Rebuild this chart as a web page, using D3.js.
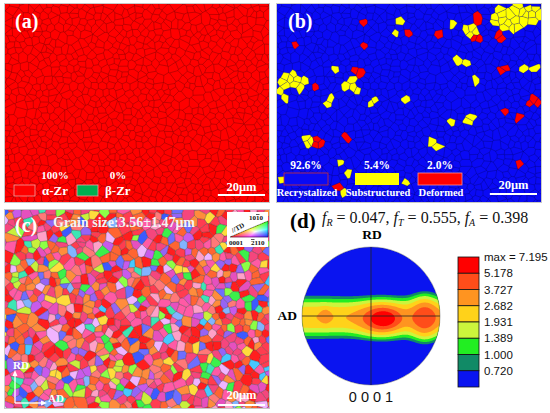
<!DOCTYPE html>
<html>
<head>
<meta charset="utf-8">
<script src="https://cdn.jsdelivr.net/npm/d3@7"></script>
<style>
body { margin: 0; background: #fff }
svg { display: block }
</style>
</head>
<body>
<div id="figure"></div>
<script>
// ---------- data ----------
var mapSizeMicrons = [112, 84]
var scaleBarMicrons = 20

var phaseLabels = ["α-Zr", "β-Zr"]
var phaseFractions = ["100%", "0%"]
var phaseColors = ["#ff0000", "#00b050"]

var recrystLabels = ["Recrystalized", "Substructured", "Deformed"]
var recrystFractions = ["92.6%", "5.4%", "2.0%"]
var recrystColors = ["#0a0af5", "#ffff00", "#ff0000"]

// grain clusters of map (b), in microns: [x, y, rx, ry]
var substructuredPatches = [
    [101, 5.5, 11.5, 6], [74.7, 7.6, 1.8, 1.8], [82.7, 11.9, 4.5, 1.5], [53.9, 7.2, 1.8, 1.8],
    [49.2, 12.3, 1.2, 1], [75.9, 24.2, 1.2, 1], [81.5, 24.6, 1, 1], [25.5, 28, 1.8, 1.8],
    [102.7, 28.4, 1.8, 1.8], [5.5, 32.2, 6, 3], [9.8, 33.1, 3, 3], [30.1, 33.9, 3, 3],
    [85.3, 32.2, 1.3, 1.3], [109.5, 27.2, 1.3, 1.3], [33.5, 37.8, 1.6, 1.6], [2.5, 38.2, 2, 2],
    [22.1, 41.2, 1.6, 1.6], [40.3, 41.6, 2, 2], [52.6, 40.7, 1.6, 1.6], [73.4, 49.6, 1.5, 1.5],
    [82.3, 49.2, 2, 2], [13.2, 56.9, 2.5, 2.5], [66.6, 59.8, 2.2, 2.2], [25.9, 67.9, 0.8, 0.8],
    [29.3, 71.7, 1.6, 1.6], [29.3, 78.9, 1.6, 1.6], [55.2, 75.1, 0.9, 0.9], [2.5, 75.9, 0.9, 0.9]
]
var deformedPatches = [
    [84.4, 4.7, 3.5, 2], [95, 14, 2.5, 2.5], [85.5, 13.4, 2.5, 1.3], [35.6, 7.2, 1.7, 1.7],
    [56, 13.2, 1.3, 1.3], [67.5, 12.7, 1.3, 1.3], [8.1, 17, 1, 1], [37.3, 17.8, 0.9, 0.9],
    [34.4, 28.4, 2.5, 2.5], [95.9, 28.4, 4.7, 1.7], [16.5, 34.8, 1.2, 1.2], [109, 41.6, 2.2, 2.2],
    [97.6, 44.5, 1.6, 1.6], [104.4, 47.5, 1.6, 1.6], [17.4, 58.5, 1.7, 1.7], [31, 56.9, 1.3, 1.3],
    [103.1, 66.2, 1, 1], [25.9, 76.8, 3.5, 1.4]
]

var grainSizeText = "Grain size:3.56±1.47μm"
// IPF colours seen in map (c) and how often they show up
var ipfColors = ["#ff1e1e", "#ff3c50", "#f5467d", "#ff5aa5", "#e650be", "#ff6432", "#ff8c3c",
    "#ff7878", "#ffa0c8", "#c85aeb", "#9664f5", "#6e6eff", "#3c5aff", "#46c8ff", "#82b4ff",
    "#3cf04b", "#8cff46", "#c8f03c", "#ffdc3c", "#3ce6b4", "#f0b4ff"]
var ipfWeights = [12, 10, 8, 7, 5, 9, 6, 4, 4, 3, 3, 3, 2, 2, 2, 3, 2, 2, 3, 2, 2]

var textureFactors = ["R", "T", "A"]
var textureValues = ["0.047", "0.555", "0.398"]
var podfLevels = [0.720, 1.000, 1.389, 1.931, 2.682, 3.727, 5.178]
var podfMax = 7.195
var podfColors = ["#0a14f0", "#118a66", "#22ee22", "#ccf53c", "#ffd21a", "#ff9420", "#ff4d1a", "#ff0000"]
// basal pole density in unit-circle coords: band along AD [yCentre, sigma, height]
var podfBand = [0.02, 0.19, 2.5]
// peaks on the band: [x, y, sx, sy, height]
var podfPeaks = [
    [0.15, 0.05, 0.21, 0.15, 2.6],
    [0.19, 0.04, 0.12, 0.085, 2.4],
    [0.78, 0.03, 0.13, 0.20, 2.55],
    [-0.80, 0.0, 0.30, 0.28, 0.15],
    [-0.66, 0.0, 0.05, 0.07, 1.0]
]

// ---------- layout ----------
var width = 550
var height = 413
var serif = "'Liberation Serif', 'Times New Roman', serif"
var sans = "'Liberation Sans', Arial, sans-serif"
var panelA = {x: 5, y: 4, w: 264, h: 198}
var panelB = {x: 277, y: 4, w: 264, h: 198}
var panelC = {x: 5, y: 210, w: 264, h: 198}
var pole = {cx: 371, cy: 316, r: 69}

var svg = d3.select("#figure").append("svg")
    .attr("width", width)
    .attr("height", height)

var xMap = d3.scaleLinear().domain([0, mapSizeMicrons[0]]).range([0, panelA.w])
var yMap = d3.scaleLinear().domain([0, mapSizeMicrons[1]]).range([0, panelA.h])

/**
 * Small seeded generator, only used for the grain texture of the maps
 */
function texture(seed) {
    return function() {
        seed = (seed * 1664525 + 1013904223) >>> 0
        return seed / 4294967296
    }
}

/**
 * Grain centres on a jittered staggered grid (microns)
 */
function grainSites(seed, dx, dy, skipRate) {
    var rnd = texture(seed)
    var sites = []
    for (var row = -1; row * dy < mapSizeMicrons[1] + dy; row++) {
        for (var col = -1; col * dx < mapSizeMicrons[0] + dx; col++) {
            var skip = rnd() < skipRate
            var jx = (rnd() - 0.5) * dx * 0.75
            var jy = (rnd() - 0.5) * dy * 0.75
            if (skip) continue
            sites.push([col * dx + (row % 2) * dx / 2 + jx, row * dy + jy])
        }
    }
    return sites
}

/**
 * Create the group and clip of a map panel
 */
function mapPanel(panel, id) {
    svg.append("clipPath").attr("id", id)
        .append("rect").attr("width", panel.w).attr("height", panel.h)
    var g = svg.append("g").attr("transform", "translate(" + panel.x + "," + panel.y + ")")
    var inner = g.append("g").attr("clip-path", "url(#" + id + ")")
    return {g: g, inner: inner}
}

function voronoiOf(sites, panel) {
    return d3.Delaunay
        .from(sites, function(d) { return xMap(d[0]) }, function(d) { return yMap(d[1]) })
        .voronoi([0, 0, panel.w, panel.h])
}

function frame(g, panel) {
    g.append("rect").attr("x", -0.5).attr("y", -0.5)
        .attr("width", panel.w + 1).attr("height", panel.h + 1)
        .attr("fill", "none").attr("stroke", "#c8c8c8").attr("stroke-width", 1)
}

function panelLabel(g, text, x, y) {
    g.append("text").attr("x", x).attr("y", y)
        .style("font-family", serif).style("font-weight", "bold").style("font-size", "20px")
        .attr("fill", "#fff").text(text)
}

function scaleBar(g, panel, textY, barY) {
    var x1 = panel.w - 4
    var x0 = x1 - (xMap(scaleBarMicrons) - xMap(0))
    g.append("line").attr("x1", x0).attr("x2", x1).attr("y1", barY).attr("y2", barY)
        .attr("stroke", "#fff").attr("stroke-width", 2)
    g.append("text").attr("x", (x0 + x1) / 2).attr("y", textY).attr("text-anchor", "middle")
        .style("font-family", serif).style("font-weight", "bold").style("font-size", "12.5px")
        .attr("fill", "#fff").text(scaleBarMicrons + "μm")
}

// ---------- (a) phase map ----------
function drawPhaseMap() {
    var p = mapPanel(panelA, "clipA")
    var vor = voronoiOf(grainSites(11, 3.2, 2.5, 0.12), panelA)
    p.inner.append("rect").attr("width", panelA.w).attr("height", panelA.h).attr("fill", phaseColors[0])
    p.inner.append("path").attr("d", vor.render())
        .attr("fill", "none").attr("stroke", "#4d0000").attr("stroke-width", 0.5).attr("stroke-opacity", 0.65)
    frame(p.g, panelA)
    panelLabel(p.g, "(a)", 10, 24)

    var legX = [9, 72]
    phaseLabels.forEach(function(label, i) {
        p.g.append("rect").attr("x", legX[i]).attr("y", 181).attr("width", 21).attr("height", 11)
            .attr("fill", phaseColors[i]).attr("stroke", "#f0a0a0").attr("stroke-width", 0.8)
        p.g.append("text").attr("x", legX[i] + 28).attr("y", 191)
            .style("font-family", serif).style("font-weight", "bold").style("font-size", "13px")
            .attr("fill", "#fff").text(label)
        p.g.append("text").attr("x", legX[i] + 41).attr("y", 175).attr("text-anchor", "middle")
            .style("font-family", serif).style("font-weight", "bold").style("font-size", "11px")
            .attr("fill", "#fff").text(phaseFractions[i])
    })
    scaleBar(p.g, panelA, 187, 191)
}

// ---------- (b) recrystallisation map ----------
function inPatch(site, patch) {
    var ux = (site[0] - patch[0]) / patch[2]
    var uy = (site[1] - patch[1]) / patch[3]
    return ux * ux + uy * uy <= 1
}

function drawRecrystMap() {
    var p = mapPanel(panelB, "clipB")
    var sites = grainSites(11, 3.2, 2.5, 0.12)
    var vor = voronoiOf(sites, panelB)
    var kind = sites.map(function(s) {
        if (substructuredPatches.some(function(q) { return inPatch(s, q) })) return 1
        if (deformedPatches.some(function(q) { return inPatch(s, q) })) return 2
        return 0
    })
    substructuredPatches.forEach(function(q) { kind[vor.delaunay.find(xMap(q[0]), yMap(q[1]))] = 1 })
    deformedPatches.forEach(function(q) { kind[vor.delaunay.find(xMap(q[0]), yMap(q[1]))] = 2 })

    p.inner.append("rect").attr("width", panelB.w).attr("height", panelB.h).attr("fill", recrystColors[0])
    p.inner.selectAll("path.grain")
        .data(sites.map(function(s, i) { return i }).filter(function(i) { return kind[i] > 0 }))
        .enter().append("path").attr("class", "grain")
        .attr("d", function(i) { return vor.renderCell(i) })
        .attr("fill", function(i) { return recrystColors[kind[i]] })
    p.inner.append("path").attr("d", vor.render())
        .attr("fill", "none").attr("stroke", "#000040").attr("stroke-width", 0.45).attr("stroke-opacity", 0.6)
    frame(p.g, panelB)
    panelLabel(p.g, "(b)", 11, 24)

    var boxX = [7, 78, 141]
    recrystLabels.forEach(function(label, i) {
        var cx = boxX[i] + 22
        p.g.append("rect").attr("x", boxX[i]).attr("y", 169).attr("width", 44).attr("height", 12)
            .attr("fill", recrystColors[i])
            .attr("stroke", i == 0 ? "#d03030" : (i == 2 ? "#ff9090" : "none")).attr("stroke-width", 0.8)
        p.g.append("text").attr("x", cx).attr("y", 165).attr("text-anchor", "middle")
            .style("font-family", serif).style("font-weight", "bold").style("font-size", "11.5px")
            .attr("fill", "#fff").text(recrystFractions[i])
        p.g.append("text").attr("x", cx + 1).attr("y", 192).attr("text-anchor", "middle")
            .style("font-family", serif).style("font-weight", "bold").style("font-size", "10.5px")
            .attr("fill", "#fff").text(label)
    })
    scaleBar(p.g, panelB, 185, 190)
}

// ---------- (c) IPF map ----------
function drawIpfMap() {
    var p = mapPanel(panelC, "clipC")
    var sites = grainSites(29, 3.3, 2.5, 0.2)
    var vor = voronoiOf(sites, panelC)
    var rnd = texture(5)
    var cumulative = d3.cumsum(ipfWeights)
    var total = cumulative[cumulative.length - 1]
    var colors = sites.map(function() {
        return ipfColors[d3.bisectRight(cumulative, rnd() * total)]
    })
    p.inner.selectAll("path.grain")
        .data(sites.map(function(s, i) { return i }))
        .enter().append("path").attr("class", "grain")
        .attr("d", function(i) { return vor.renderCell(i) })
        .attr("fill", function(i) { return colors[i] })
    p.inner.append("path").attr("d", vor.render())
        .attr("fill", "none").attr("stroke", "#202020").attr("stroke-width", 0.5).attr("stroke-opacity", 0.7)
    frame(p.g, panelC)
    panelLabel(p.g, "(c)", 10, 22)
    p.g.append("text").attr("x", 48).attr("y", 17)
        .style("font-family", serif).style("font-weight", "bold").style("font-size", "14px")
        .attr("fill", "#f4f4f4").text(grainSizeText)

    // IPF key triangle
    var key = p.g.append("g").attr("transform", "translate(222,2)")
    key.append("rect").attr("width", 41).attr("height", 35).attr("fill", "#fff")
    var A = [3, 25], B = [41, 25], C = [41, 9]
    var step = 1
    for (var y = C[1]; y < A[1]; y += step) {
        for (var x = A[0]; x < B[0]; x += step) {
            var px = x + 0.5, py = y + 0.5
            var det = (B[1] - C[1]) * (A[0] - C[0]) + (C[0] - B[0]) * (A[1] - C[1])
            var a = ((B[1] - C[1]) * (px - C[0]) + (C[0] - B[0]) * (py - C[1])) / det
            var b = ((C[1] - A[1]) * (px - C[0]) + (A[0] - C[0]) * (py - C[1])) / det
            var c = 1 - a - b
            if (a < 0 || b < 0 || c < 0) continue
            var m = Math.max(a, b, c)
            var col = d3.rgb(255 * Math.sqrt(a / m), 255 * Math.sqrt(c / m), 255 * Math.sqrt(b / m))
            key.append("rect").attr("x", x).attr("y", y).attr("width", step + 0.2).attr("height", step + 0.2)
                .attr("fill", col)
        }
    }
    key.append("path").attr("d", "M" + A + "L" + B + "L" + C + "Z")
        .attr("fill", "none").attr("stroke", "#222").attr("stroke-width", 0.5)
    var keyFont = function(t) {
        return t.style("font-family", serif).style("font-weight", "bold").style("font-size", "7px").attr("fill", "#111")
    }
    var top = keyFont(key.append("text").attr("x", 22).attr("y", 8))
    top.append("tspan").text("10")
    top.append("tspan").style("text-decoration", "overline").text("1")
    top.append("tspan").text("0")
    keyFont(key.append("text").attr("x", 2).attr("y", 33)).text("0001")
    var right = keyFont(key.append("text").attr("x", 24).attr("y", 33))
    right.append("tspan").style("text-decoration", "overline").text("2")
    right.append("tspan").text("110")
    keyFont(key.append("text").attr("transform", "translate(6,21) rotate(-28)")).text("//TD")

    // sample axes
    var axes = p.g.append("g").attr("stroke", "#fff").attr("stroke-width", 1.3).attr("fill", "#fff")
    axes.append("line").attr("x1", 10).attr("y1", 193).attr("x2", 10).attr("y2", 164)
    axes.append("line").attr("x1", 10).attr("y1", 193).attr("x2", 38).attr("y2", 193)
    axes.append("path").attr("d", "M10,160L7.5,166L12.5,166Z").attr("stroke", "none")
    axes.append("path").attr("d", "M42,193L36,190.5L36,195.5Z").attr("stroke", "none")
    p.g.append("text").attr("x", 8).attr("y", 159)
        .style("font-family", serif).style("font-weight", "bold").style("font-size", "11px")
        .attr("fill", "#fff").text("RD")
    p.g.append("text").attr("x", 43).attr("y", 192)
        .style("font-family", serif).style("font-weight", "bold").style("font-size", "11px")
        .attr("fill", "#fff").text("AD")
    scaleBar(p.g, panelC, 189, 195)
}

// ---------- (d) basal pole figure ----------
function podfValue(x, y) {
    var dyb = (y - podfBand[0]) / podfBand[1]
    var v = podfBand[2] * Math.exp(-dyb * dyb / 2)
    podfPeaks.forEach(function(pk) {
        var ux = (x - pk[0]) / pk[2]
        var uy = (y - pk[1]) / pk[3]
        v += pk[4] * Math.exp(-(ux * ux + uy * uy) / 2)
    })
    return v
}

function drawPoleFigure() {
    var n = 160
    var extent = 1.05
    var grid = d3.scaleLinear().domain([0, n]).range([-extent, extent])
    var values = new Array(n * n)
    for (var j = 0; j < n; j++) {
        for (var i = 0; i < n; i++) {
            values[j * n + i] = podfValue(grid(i + 0.5), grid(j + 0.5))
        }
    }
    var px = d3.scaleLinear().domain([-1, 1]).range([pole.cx - pole.r, pole.cx + pole.r])
    var py = d3.scaleLinear().domain([-1, 1]).range([pole.cy - pole.r, pole.cy + pole.r])
    var path = d3.geoPath(d3.geoTransform({
        point: function(x, y) { this.stream.point(px(grid(x)), py(grid(y))) }
    }))
    var contours = d3.contours().size([n, n]).thresholds(podfLevels)(values)

    svg.append("clipPath").attr("id", "clipPole")
        .append("circle").attr("cx", pole.cx).attr("cy", pole.cy).attr("r", pole.r)
    var g = svg.append("g").attr("clip-path", "url(#clipPole)")
    g.append("circle").attr("cx", pole.cx).attr("cy", pole.cy).attr("r", pole.r).attr("fill", podfColors[0])
    g.selectAll("path.level").data(contours).enter().append("path").attr("class", "level")
        .attr("d", path)
        .attr("fill", function(d, i) { return podfColors[i + 1] })
    svg.append("line").attr("x1", px(-1)).attr("x2", px(1)).attr("y1", py(0)).attr("y2", py(0))
        .attr("stroke", "#222").attr("stroke-width", 0.8)
    svg.append("line").attr("x1", px(0)).attr("x2", px(0)).attr("y1", py(-1)).attr("y2", py(1))
        .attr("stroke", "#222").attr("stroke-width", 0.8)
    svg.append("circle").attr("cx", pole.cx).attr("cy", pole.cy).attr("r", pole.r)
        .attr("fill", "none").attr("stroke", "#444").attr("stroke-width", 0.4)

    svg.append("text").attr("x", 290).attr("y", 228)
        .style("font-family", serif).style("font-weight", "bold").style("font-size", "21px").text("(d)")
    var formula = svg.append("text").attr("x", 322).attr("y", 223)
        .style("font-family", serif).style("font-size", "16px").attr("fill", "#111")
    textureFactors.forEach(function(f, i) {
        formula.append("tspan").style("font-style", "italic").text("f")
        formula.append("tspan").attr("dy", 3).style("font-size", "10px").style("font-style", "italic").text(f)
        formula.append("tspan").attr("dy", -3)
            .text(" = " + textureValues[i] + (i < textureFactors.length - 1 ? ", " : ""))
    })
    svg.append("text").attr("x", pole.cx + 1).attr("y", 239).attr("text-anchor", "middle")
        .style("font-family", serif).style("font-weight", "bold").style("font-size", "13.5px").text("RD")
    svg.append("text").attr("x", 297).attr("y", 320).attr("text-anchor", "end")
        .style("font-family", serif).style("font-weight", "bold").style("font-size", "13.5px").text("AD")
    svg.append("text").attr("x", pole.cx).attr("y", 402).attr("text-anchor", "middle")
        .style("font-family", sans).style("font-size", "14.5px").attr("fill", "#111").text("0 0 0 1")

    // colour key
    var labels = ["max = " + podfMax.toFixed(3)].concat(podfLevels.slice().reverse().map(function(v) { return v.toFixed(3) }))
    var keyColors = podfColors.slice().reverse()
    var ky = d3.scaleLinear().domain([0, keyColors.length]).range([257, 387])
    svg.selectAll("rect.key").data(keyColors).enter().append("rect").attr("class", "key")
        .attr("x", 458).attr("width", 21)
        .attr("y", function(d, i) { return ky(i) })
        .attr("height", ky(1) - ky(0))
        .attr("fill", function(d) { return d })
        .attr("stroke", "#111").attr("stroke-width", 0.8)
    svg.selectAll("text.key").data(labels).enter().append("text").attr("class", "key")
        .attr("x", 484)
        .attr("y", function(d, i) { return ky(i) + 4 })
        .style("font-family", sans).style("font-size", "11.5px").attr("fill", "#111")
        .text(function(d) { return d })
}

drawPhaseMap()
drawRecrystMap()
drawIpfMap()
drawPoleFigure()
</script>
</body>
</html>
